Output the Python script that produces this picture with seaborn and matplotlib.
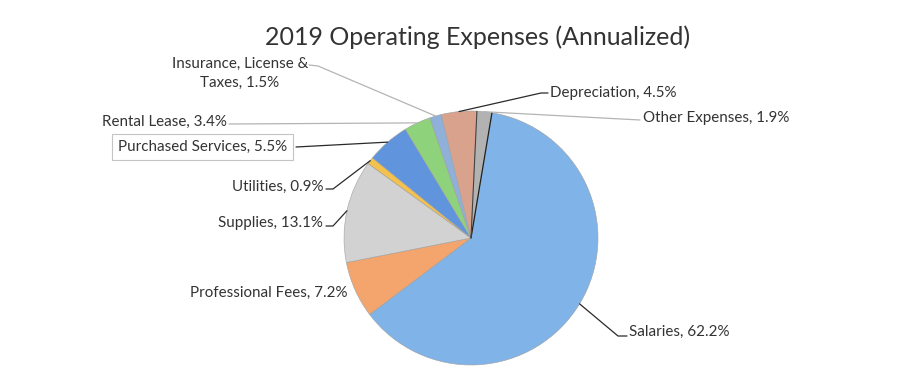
import numpy as np
import matplotlib
matplotlib.use("Agg")
import matplotlib.pyplot as plt
from matplotlib.lines import Line2D
import seaborn as sns

# Expense categories and their annual share (%)
categories = ["Salaries", "Professional Fees", "Supplies", "Utilities",
              "Purchased Services", "Rental Lease", "Insurance, License &\nTaxes",
              "Depreciation", "Other Expenses"]
shares = [62.2, 7.2, 13.1, 0.9, 5.5, 3.4, 1.5, 4.5, 1.9]
slice_colors = ["#80B3E7", "#F4A56D", "#D2D2D2", "#F2C14E", "#6094DC",
                "#8FD27C", "#8FB0D8", "#D9A28C", "#B2B2B2"]

sns.set_theme(style="white")
plt.rcParams["font.family"] = ["Lato", "DejaVu Sans"]

W, H = 915, 381
fig = plt.figure(figsize=(W / 100, H / 100), dpi=100)
fig.patch.set_facecolor("white")

# pie centre and radius in pixels (top-left origin)
cx, cy, r = 471, 238, 127
ax = fig.add_axes([(cx - r) / W, 1 - (cy + r) / H, 2 * r / W, 2 * r / H])
wedges, _ = ax.pie(shares, colors=slice_colors, startangle=80.5, counterclock=False,
                   radius=1.0, wedgeprops=dict(edgecolor="#a0a0a0", linewidth=0.4))
ax.set_xlim(-1, 1)
ax.set_ylim(-1, 1)
ax.set_aspect("equal")
ax.axis("off")


def fpt(x, y):
    """pixel (top-left origin) -> figure fraction"""
    return x / W, 1 - y / H


to_fig = ax.transData + fig.transFigure.inverted()


def edge_point(w):
    mid = np.deg2rad((w.theta1 + w.theta2) / 2)
    return to_fig.transform((np.cos(mid), np.sin(mid)))


def boundary(angle_deg, color, lw):
    a = np.deg2rad(angle_deg)
    ax.plot([0, np.cos(a)], [0, np.sin(a)], color=color, lw=lw, zorder=3)


# darker slice borders around "Other Expenses"
boundary(wedges[-1].theta1, "#222222", 0.9)
boundary(wedges[-1].theta2, "#444444", 0.8)

txt = "#333333"
fs = 10.9

fig.text(*fpt(478, 37), "2019 Operating Expenses (Annualized)", ha="center", va="center",
         fontsize=18, color="#333333")

percent = [f"{v:.1f}%" for v in shares]
labels = [f"{c}, {p}" for c, p in zip(categories, percent)]

# label anchor (pixels), horizontal alignment
label_pos = {
    0: (629, 332, "left"),
    1: (348, 293, "right"),
    2: (323, 223, "right"),
    3: (323, 187, "right"),
    4: (287, 147, "right"),
    5: (227, 122, "right"),
    6: (240, 73, "center"),
    7: (550, 93, "left"),
    8: (643, 118, "left"),
}

for i, (x, y, ha) in label_pos.items():
    kw = dict(ha=ha, va="center", fontsize=fs, color=txt, linespacing=1.45)
    if i == 4:
        kw["bbox"] = dict(boxstyle="square,pad=0.38", fc="white", ec="#c4c4c4", lw=0.8)
    fig.text(*fpt(x, y), labels[i], **kw)

# leader lines: label-side points (pixels), colour
leaders = {
    0: ([(627, 336), (618, 336)], "#2a2a2a"),
    2: ([(326, 226), (333, 226)], "#2a2a2a"),
    3: ([(326, 189), (333, 189)], "#2a2a2a"),
    4: ([(296, 147)], "#2a2a2a"),
    5: ([(229, 124)], "#b4b4b4"),
    6: ([(309, 65), (318, 66)], "#b4b4b4"),
    7: ([(548, 93), (541, 93)], "#2a2a2a"),
    8: ([(640, 120)], "#b4b4b4"),
}

for i, (pts, col) in leaders.items():
    xs = [fpt(*p)[0] for p in pts]
    ys = [fpt(*p)[1] for p in pts]
    ex, ey = edge_point(wedges[i])
    xs.append(ex)
    ys.append(ey)
    fig.add_artist(Line2D(xs, ys, color=col, lw=0.9, transform=fig.transFigure))

fig.savefig("out.png", dpi=100, facecolor="white")
